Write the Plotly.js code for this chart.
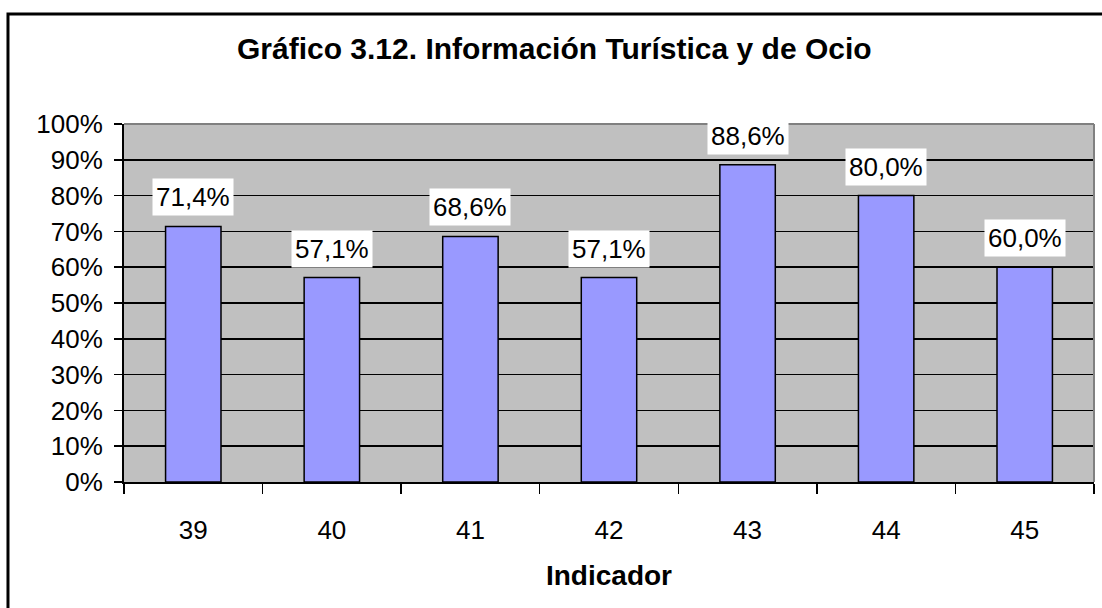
<!DOCTYPE html>
<html>
<head>
<meta charset="utf-8">
<script src="https://cdn.plot.ly/plotly-3.0.1.min.js"></script>
<style>
  body { margin: 0; background: #fff; }
  #chart { width: 1102px; height: 608px; }
</style>
</head>
<body>
<div id="chart"></div>
<script type="text/javascript">
// indicadores y porcentajes
const indicadores = ['39', '40', '41', '42', '43', '44', '45'];
const porcentajes = [71.4, 57.1, 68.6, 57.1, 88.6, 80.0, 60.0];

const fontFam = 'Arial, "Liberation Sans", sans-serif';

const barras = {
    type: 'bar',
    x: indicadores,
    y: porcentajes,
    marker: {color: '#9999FF', line: {color: '#000000', width: 1.5}},
    hoverinfo: 'skip'
};

// etiquetas con fondo blanco (x por posición de categoría)
const etiquetas = indicadores.map((ind, i) => ({
    x: i,
    y: porcentajes[i],
    xref: 'x',
    yref: 'y',
    text: porcentajes[i].toFixed(1).replace('.', ',') + '%',
    showarrow: false,
    yanchor: 'bottom',
    yshift: 10,
    bgcolor: '#FFFFFF',
    borderpad: 3,
    font: {family: fontFam, size: 26, color: '#000'}
}));

const layout = {
    width: 1102,
    height: 608,
    margin: {l: 124, r: 8, t: 124, b: 126},
    paper_bgcolor: '#FFFFFF',
    plot_bgcolor: '#C0C0C0',
    showlegend: false,
    bargap: 0.6,
    font: {family: fontFam, size: 26, color: '#000'},
    title: {
        text: '<b>Gráfico 3.12. Información Turística y de Ocio</b>',
        font: {family: fontFam, size: 30, color: '#000'},
        xref: 'container', x: 0.503,
        yref: 'container', y: 0.921, yanchor: 'middle'
    },
    xaxis: {
        type: 'category',
        range: [-0.5, 6.5],
        tickson: 'boundaries',
        ticks: 'outside',
        ticklen: 10,
        tickwidth: 1.5,
        tickcolor: '#000',
        tickangle: 0,
        ticklabelstandoff: 24,
        showline: true,
        linecolor: '#000',
        linewidth: 2,
        showgrid: false,
        tickfont: {family: fontFam, size: 26, color: '#000'},
        title: {
            text: '<b>Indicador</b>',
            font: {family: fontFam, size: 28, color: '#000'},
            standoff: 21
        }
    },
    yaxis: {
        range: [0, 100],
        dtick: 10,
        ticksuffix: '%',
        ticks: 'outside',
        ticklen: 8,
        tickwidth: 1.5,
        tickcolor: '#000',
        ticklabelstandoff: 6,
        showline: true,
        linecolor: '#000',
        linewidth: 2,
        showgrid: true,
        gridcolor: '#000',
        gridwidth: 1.5,
        zeroline: false,
        tickfont: {family: fontFam, size: 26, color: '#000'}
    },
    annotations: etiquetas,
    shapes: [
        // borde gris superior y derecho del área de trazado
        {type: 'line', xref: 'paper', yref: 'paper', x0: 0, x1: 1, y0: 1, y1: 1,
         line: {color: '#808080', width: 2}, layer: 'above'},
        {type: 'line', xref: 'paper', yref: 'paper', x0: 1, x1: 1, y0: 0, y1: 1,
         line: {color: '#808080', width: 2}, layer: 'above'},
        // marco exterior del gráfico
        {type: 'rect', xref: 'paper', yref: 'paper',
         x0: -0.1196, x1: 1.2, y0: -0.5, y1: 1.307,
         line: {color: '#000', width: 3}, fillcolor: 'rgba(0,0,0,0)', layer: 'below'}
    ]
};

Plotly.newPlot('chart', [barras], layout, {displayModeBar: false, staticPlot: true});
</script>
</body>
</html>
